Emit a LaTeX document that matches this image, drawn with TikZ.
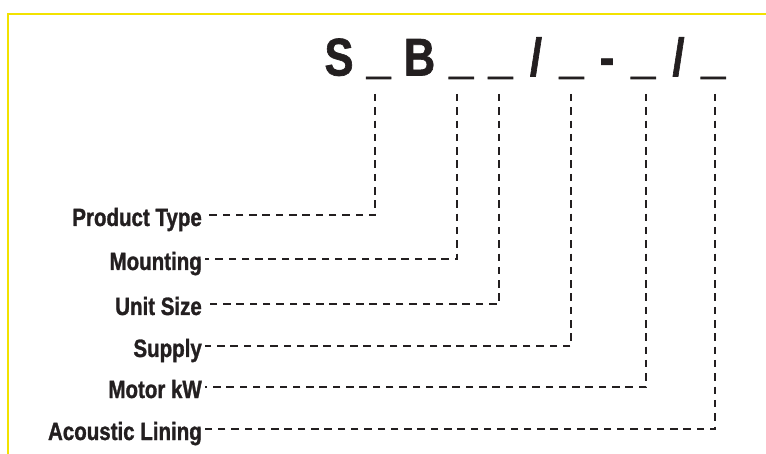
\documentclass[tikz,border=0pt]{standalone}
\usepackage{fontspec}
\newfontfamily\condfont[FakeStretch=0.82, FakeBold=1.2]{Liberation Sans Bold}
\definecolor{ink}{RGB}{35,31,32}
\definecolor{frameyellow}{RGB}{242,226,0}
\tikzset{
  frameline/.style={draw=frameyellow, line width=2.6pt, line join=miter},
  leader/.style={draw=ink, line width=1.8pt, dash pattern=on 7.5pt off 5.8pt},
  codechar/.style={text=ink, inner sep=0pt, anchor=base,
    font=\condfont\fontsize{53}{60}\selectfont},
  fieldlabel/.style={text=ink, inner ysep=0pt, inner xsep=3pt, anchor=east,
    text height=22pt, text depth=0pt,
    font=\condfont\fontsize{25}{30}\selectfont},
}
\begin{document}
\begin{tikzpicture}[x=1pt, y=-1pt]
\useasboundingbox (0,0) rectangle (766,454);

% yellow frame corner
\draw[frameline] (8,454) -- (8,14) -- (766,14);

% code string
\node[codechar] (cS)  at (339,75.5) {S};
\node[codechar] (cB)  at (419.5,75.5) {B};
\node[codechar] (sl1) at (536,75.5) {/};
\node[codechar] (hy)  at (607,75.5) {-};
\node[codechar] (sl2) at (678.5,75.5) {/};
\node[codechar] (u1) at (378.7,72.5) {\_};
\node[codechar] (u2) at (461.3,72.5) {\_};
\node[codechar] (u3) at (500.5,72.5) {\_};
\node[codechar] (u4) at (571.5,72.5) {\_};
\node[codechar] (u5) at (643.3,72.5) {\_};
\node[codechar] (u6) at (713.3,72.5) {\_};

% leader start points below the slots
\coordinate (t1) at (375,94);
\coordinate (t2) at (456.7,94);
\coordinate (t3) at (499.3,94);
\coordinate (t4) at (571,94);
\coordinate (t5) at (645.7,94);
\coordinate (t6) at (715,94);

% field labels
\node[fieldlabel] (l1) at (205,215) {Product Type};
\node[fieldlabel] (l2) at (205,259) {Mounting};
\node[fieldlabel] (l3) at (205,304) {Unit Size};
\node[fieldlabel] (l4) at (205,346) {Supply};
\node[fieldlabel] (l5) at (205,387) {Motor kW};
\node[fieldlabel] (l6) at (205,429) {Acoustic Lining};

% leaders
\draw[leader] (t1) |- (l1.east);
\draw[leader] (t2) |- (l2.east);
\draw[leader] (t3) |- (l3.east);
\draw[leader] (t4) |- (l4.east);
\draw[leader] (t5) |- (l5.east);
\draw[leader] (t6) |- (l6.east);
\end{tikzpicture}
\end{document}
